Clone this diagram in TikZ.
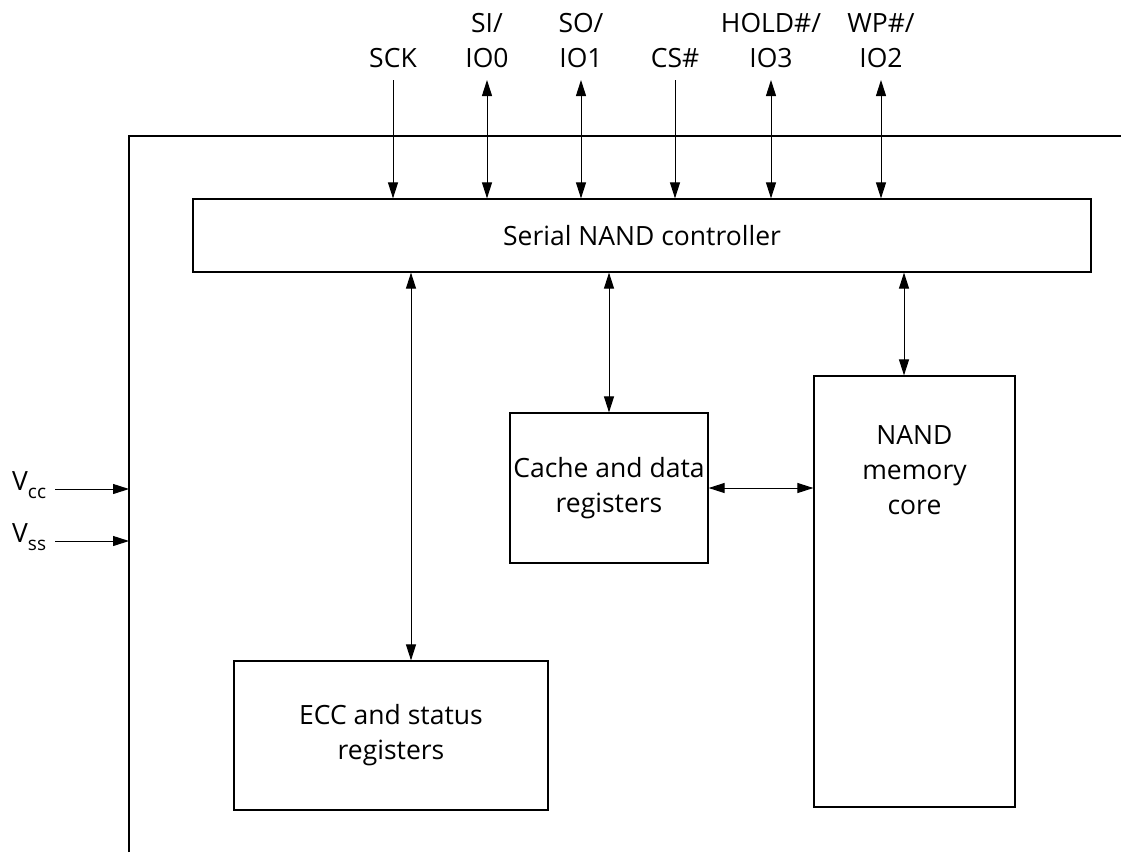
\documentclass[tikz,border=0pt]{standalone}
\usepackage{fontspec}
\setmainfont{Open Sans}
\usetikzlibrary{arrows.meta}
\tikzset{
    blk/.style={draw, line width=1.2pt, inner sep=0pt, align=center},
    lbl/.style={align=center, inner sep=0pt},
    sig/.style={line width=1pt, -{Triangle[length=16pt,width=10pt]}},
    bisig/.style={line width=1pt, {Triangle[length=16pt,width=10pt]}-{Triangle[length=16pt,width=10pt]}}
}
\newcommand{\subtxt}[1]{{\fontsize{19}{19}\selectfont\raisebox{-8pt}{#1}}}

\begin{document}
\begin{tikzpicture}[x=1pt,y=-1pt,font=\fontsize{26.5}{35}\selectfont]
        \useasboundingbox (0,0) rectangle (1121,852);

        % chip outline
        \draw[line width=1.2pt] (129,852) -- (129,136) -- (1121,136);

        % blocks
        \node[blk, minimum width=898pt, minimum height=73pt] (ctrl) at (642,235.5) {Serial NAND controller};
        \node[blk, minimum width=198pt, minimum height=150pt] (cache) at (609,488) {Cache and data\\registers};
        \node[blk, minimum width=201pt, minimum height=431pt] (core) at (914.5,591.5) {};
        \node[lbl] (coretxt) at (914.5,470) {NAND\\memory\\core};
        \node[blk, minimum width=314pt, minimum height=149pt] (ecc) at (391,735.5) {ECC and status\\registers};

        % pins
        \node[lbl, anchor=base] (sckl) at (393,67) {SCK};
        \node[lbl, anchor=base] (sil)  at (487,67) {SI/\\IO0};
        \node[lbl, anchor=base] (sol)  at (581,67) {SO/\\IO1};
        \node[lbl, anchor=base] (csl)  at (675,67) {CS\#};
        \node[lbl, anchor=base] (holdl) at (771,67) {HOLD\#/\\IO3};
        \node[lbl, anchor=base] (wpl)  at (881,67) {WP\#/\\IO2};

        \coordinate (sck)  at (393,80);
        \coordinate (si)   at (487,80);
        \coordinate (so)   at (581,80);
        \coordinate (cs)   at (675,80);
        \coordinate (hold) at (771,80);
        \coordinate (wp)   at (881,80);

        \draw[sig]   (sck)  -- (sck  |- ctrl.north);
        \draw[bisig] (si)   -- (si   |- ctrl.north);
        \draw[bisig] (so)   -- (so   |- ctrl.north);
        \draw[sig]   (cs)   -- (cs   |- ctrl.north);
        \draw[bisig] (hold) -- (hold |- ctrl.north);
        \draw[bisig] (wp)   -- (wp   |- ctrl.north);

        % internal buses
        \draw[bisig] (ctrl.south -| 411,0) -- (ecc.north -| 411,0);
        \draw[bisig] (ctrl.south -| cache) -- (cache.north);
        \draw[bisig] (ctrl.south -| 904,0) -- (core.north -| 904,0);
        \draw[bisig] (cache.east) -- (cache.east -| core.west);

        % supply
        \node[lbl, anchor=base west] (vcc) at (12,490) {V\subtxt{cc}};
        \node[lbl, anchor=base west] (vss) at (12,542) {V\subtxt{ss}};
        \coordinate (chipl) at (129,0);
        \coordinate (vccs) at (55,489);
        \coordinate (vsss) at (55,541);
        \draw[sig] (vccs) -- (vccs -| chipl);
        \draw[sig] (vsss) -- (vsss -| chipl);
    \end{tikzpicture}
\end{document}
